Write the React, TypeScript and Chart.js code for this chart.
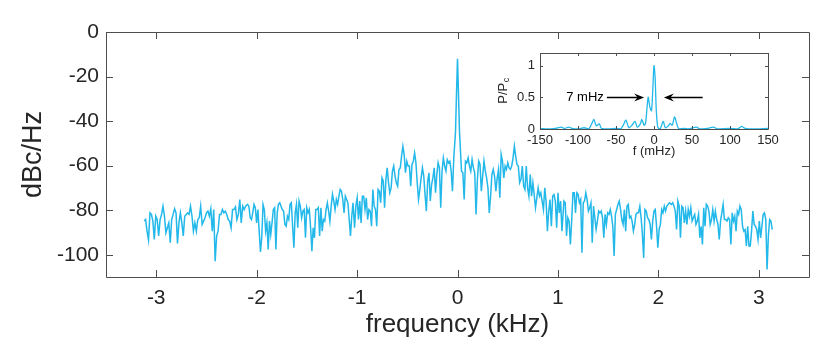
import React, { useEffect, useRef } from "react";
import { Chart, registerables } from "chart.js";

Chart.register(...registerables);

// ---- Main spectrum (dBc/Hz) ----
const segARange = [-3.12, -2.11];
const segA = [-84.9,-84.2,-89.4,-93.4,-81.2,-81.9,-84.9,-93.1,-82.7,-84.2,-91.6,-84.2,-81.9,-78.2,-82.7,-90.2,-87.9,-85.7,-94.6,-84.2,-81.9,-79.4,-81.2,-94.9,-85.7,-81.2,-85.7,-91.6,-82.7,-81.9,-81.2,-81.9,-78.2,-82.7,-89.4,-85.7,-89.4,-84.2,-83.4,-78.2,-86.4,-84.9,-83.4,-81.2,-80.4,-82.7,-79.4,-89.4,-79.7,-102.9,-91.6,-89.4,-81.9,-81.9,-79.7,-81.2,-80.4,-81.9,-84.2,-84.9,-87.9,-79.7,-79.7,-78.5,-84.2,-81.9,-75.2,-85.7,-78.2,-79.7,-78.2];

const segBRange = [-2.09, -1.04];
const segB = [-77.4,-78.2,-83.4,-84.2,-81.2,-77.4,-78.9,-85.7,-79.7,-89.4,-98.8,-92.4,-77.4,-79.7,-89.4,-85.7,-97.6,-84.9,-90.9,-85.7,-79.7,-78.9,-97.6,-81.2,-77.4,-76.7,-78.2,-79.7,-80.4,-86.4,-87.2,-82.7,-84.2,-77.4,-76.7,-87.2,-96.9,-81.2,-77.4,-87.9,-75.9,-78.2,-83.4,-80.4,-79.7,-92.4,-78.9,-81.2,-79.7,-87.9,-98.4,-87.9,-92.4,-79.7,-79.7,-78.9,-91.6,-78.9,-89.4,-84.2,-84.9,-79.7,-76.7,-80.4,-84.9,-78.2,-72.9,-75.9,-79.7,-75.2,-77.4,-73.7,-70.7,-71.5,-75.2,-81.2,-73.7,-75.2,-76.7,-84.2,-91.6,-82.7,-76.7];

const segCRange = [-1.025, -0.037];
const segC = [-87.9,-78.2,-74.4,-84.2,-75.9,-85.7,-73.7,-73.7,-79.7,-74.4,-84.2,-79.7,-80.4,-87.2,-70.7,-78.2,-79.7,-87.2,-70.7,-71.5,-76.7,-65.5,-67.0,-78.9,-66.2,-61.0,-67.7,-72.2,-70.0,-62.5,-60.2,-64.7,-67.7,-69.2,-61.7,-61.0,-55.8,-51.3,-55.0,-63.2,-58.0,-60.2,-60.2,-69.2,-59.5,-58.0,-54.3,-58.7,-67.7,-75.2,-70.7,-65.5,-61.0,-64.7,-73.0,-80.4,-67.0,-63.2,-75.9,-68.5,-65.5,-61.0,-72.2,-64.0,-58.7,-61.0,-78.9,-62.5,-56.5,-60.2,-62.5,-57.3,-58.7,-58.0,-62.5,-71.5,-56.5];

const peakFreqs = [-0.02, -0.01, 0, 0.01, 0.02];
const peakVals = [-45, -28, -12, -28, -45];

const segDRange = [0.04, 1.04];
const segD = [-62.5,-63.2,-75.2,-58.0,-58.7,-56.5,-60.2,-62.5,-57.3,-61.0,-63.2,-81.9,-66.2,-58.0,-59.5,-71.5,-64.7,-58.0,-62.5,-65.5,-70.0,-81.2,-73.7,-64.0,-61.7,-64.7,-71.5,-65.5,-61.7,-74.4,-55.0,-58.0,-65.5,-60.2,-61.7,-58.7,-61.0,-61.7,-60.2,-56.5,-51.3,-55.8,-59.5,-60.2,-67.7,-66.2,-60.2,-69.2,-70.7,-60.2,-70.0,-73.7,-64.0,-73.7,-67.7,-73.0,-78.9,-74.4,-70.0,-73.7,-72.2,-75.9,-79.7,-70.0,-75.9,-89.4,-80.4,-75.2,-87.2,-73.7,-73.0,-75.9,-87.9,-72.2,-81.2,-75.9,-89.4];

const segERange = [1.06, 2.11];
const segE = [-75.9,-76.7,-91.6,-83.4,-84.9,-95.4,-84.9,-72.2,-72.2,-81.2,-72.2,-72.9,-76.7,-75.2,-99.1,-76.7,-75.9,-72.2,-75.2,-80.4,-78.9,-76.7,-94.6,-78.2,-83.4,-88.6,-84.9,-80.4,-81.2,-80.4,-83.4,-92.4,-81.9,-86.4,-81.2,-81.9,-79.7,-82.7,-87.2,-100.6,-81.9,-79.7,-77.4,-75.9,-79.7,-84.2,-86.4,-79.7,-89.4,-78.2,-77.4,-83.4,-82.7,-84.9,-89.4,-86.4,-81.9,-81.2,-81.2,-78.2,-83.4,-90.9,-101.4,-79.7,-80.4,-83.4,-84.2,-86.4,-93.1,-84.9,-80.4,-79.7,-87.2,-96.9,-88.6,-86.4,-79.7,-81.2,-78.2,-80.4,-78.2,-77.4,-76.7];

const segFRange = [2.13, 3.134];
const segF = [-77.4,-76.7,-78.2,-80.4,-88.7,-75.9,-78.2,-92.4,-78.2,-78.9,-85.7,-80.4,-86.4,-79.7,-82.7,-78.9,-84.9,-83.4,-81.9,-86.4,-84.9,-81.9,-92.4,-87.2,-95.4,-78.9,-87.2,-77.4,-78.2,-80.4,-86.4,-84.2,-79.7,-84.9,-80.4,-84.2,-86.4,-93.1,-84.9,-81.2,-77.4,-84.2,-84.2,-84.9,-83.4,-84.2,-95.4,-81.2,-84.9,-82.7,-89.4,-80.4,-81.9,-78.2,-79.7,-87.2,-89.4,-88.7,-96.1,-87.2,-96.1,-96.1,-89.4,-80.4,-86.4,-87.2,-88.7,-93.1,-84.9,-92.4,-87.2,-81.9,-81.2,-84.2,-106.6,-91.6,-84.2,-84.9,-88.7];

const xTicks = [-3, -2, -1, 0, 1, 2, 3];
const yTicks = [0, -20, -40, -60, -80, -100];

// ---- Inset (linear power around the carrier) ----
const insetFreq = [-150,-140,-130,-122,-118,-112,-108,-100,-92,-86,-82,-79,-76,-72,-69,-60,-50,-44,-40,-37,-33,-29,-25,-22,-18,-16,-13,-11,-7.7,-5.5,-3.3,-1.5,0,1.5,3,5,8,12,15,19,21,24,27,30,33,40,45,56,60,70,78,84,100,110,115,120,130,150];
const insetPower = [0.01,0.0,0.01,0.03,0.01,0.03,0.01,0.0,0.02,0.0,0.08,0.15,0.05,0.08,0.01,0.0,0.01,0.0,0.07,0.14,0.02,0.06,0.12,0.03,0.08,0.15,0.06,0.1,0.5,0.35,0.29,0.65,1.0,0.8,0.3,0.03,0.0,0.12,0.02,0.05,0.09,0.06,0.19,0.08,0.0,0.01,0.0,0.03,0.0,0.01,0.03,0.0,0.01,0.0,0.04,0.01,0.0,0.01];
const insetXTicks = [-150, -100, -50, 0, 50, 100, 150];
const insetYTicks = [0, 0.5, 1];

// annotation "7 mHz" with two arrows (inset data units)
const annoLevel = 0.51;
const annoText = "7 mHz";
const annoTextEnd = -66;
const arrowLeftFrom = -62;
const arrowLeftTo = -13;
const arrowRightFrom = 64;
const arrowRightTo = 13;

const FONT = "'Liberation Sans', Arial, Helvetica, sans-serif";
const LINE = "#22b8ea";
const AXIS = "#4d4d4d";
const TEXT = "#262626";

function band(range: number[], vals: number[]) {
  const n = vals.length;
  return vals.map((v, i) => ({ x: range[0] + ((range[1] - range[0]) * i) / (n - 1), y: v }));
}

function boxPlugin(tickLen: number, xt: number[], yt: number[], fillBg: boolean) {
  return {
    id: "boxTicks",
    beforeDatasetsDraw(chart: any) {
      if (!fillBg) return;
      const { ctx, chartArea } = chart;
      ctx.save();
      ctx.fillStyle = "#ffffff";
      ctx.fillRect(chartArea.left, chartArea.top, chartArea.right - chartArea.left, chartArea.bottom - chartArea.top);
      ctx.restore();
    },
    afterDatasetsDraw(chart: any) {
      const { ctx, chartArea, scales } = chart;
      const { left, right, top, bottom } = chartArea;
      ctx.save();
      ctx.strokeStyle = AXIS;
      ctx.lineWidth = 1;
      ctx.beginPath();
      ctx.rect(Math.round(left) + 0.5, Math.round(top) + 0.5, Math.round(right - left), Math.round(bottom - top));
      xt.forEach((v) => {
        const p = Math.round(scales.x.getPixelForValue(v)) + 0.5;
        ctx.moveTo(p, bottom);
        ctx.lineTo(p, bottom - tickLen);
        ctx.moveTo(p, top);
        ctx.lineTo(p, top + tickLen);
      });
      yt.forEach((v) => {
        const p = Math.round(scales.y.getPixelForValue(v)) + 0.5;
        ctx.moveTo(left, p);
        ctx.lineTo(left + tickLen, p);
        ctx.moveTo(right, p);
        ctx.lineTo(right - tickLen, p);
      });
      ctx.stroke();
      ctx.restore();
    },
  };
}

function drawArrow(ctx: CanvasRenderingContext2D, x0: number, x1: number, y: number) {
  const dir = x1 > x0 ? 1 : -1;
  const head = 10;
  const hw = 4;
  ctx.beginPath();
  ctx.moveTo(x0, y);
  ctx.lineTo(x1 - dir * head * 0.6, y);
  ctx.stroke();
  ctx.beginPath();
  ctx.moveTo(x1, y);
  ctx.lineTo(x1 - dir * head, y - hw);
  ctx.lineTo(x1 - dir * head * 0.65, y);
  ctx.lineTo(x1 - dir * head, y + hw);
  ctx.closePath();
  ctx.fill();
}

const insetDecor = {
  id: "insetDecor",
  afterDraw(chart: any) {
    const { ctx, scales, chartArea } = chart;
    const xs = scales.x;
    const ys = scales.y;
    ctx.save();
    // y label P/P_c
    ctx.fillStyle = TEXT;
    const cx = chartArea.left - 37;
    const cy = (chartArea.top + chartArea.bottom) / 2;
    ctx.translate(cx, cy);
    ctx.rotate(-Math.PI / 2);
    ctx.font = `13px ${FONT}`;
    const w1 = ctx.measureText("P/P").width;
    ctx.font = `9px ${FONT}`;
    const w2 = ctx.measureText("c").width;
    ctx.textBaseline = "middle";
    ctx.textAlign = "left";
    ctx.font = `13px ${FONT}`;
    ctx.fillText("P/P", -(w1 + w2) / 2, 0);
    ctx.font = `9px ${FONT}`;
    ctx.fillText("c", -(w1 + w2) / 2 + w1 + 0.5, 4);
    ctx.restore();

    // annotation
    ctx.save();
    const ay = Math.round(ys.getPixelForValue(annoLevel)) + 0.5;
    ctx.fillStyle = "#000000";
    ctx.strokeStyle = "#000000";
    ctx.lineWidth = 1.3;
    ctx.font = `13px ${FONT}`;
    ctx.textAlign = "right";
    ctx.textBaseline = "middle";
    ctx.fillText(annoText, xs.getPixelForValue(annoTextEnd), ay);
    drawArrow(ctx, xs.getPixelForValue(arrowLeftFrom), xs.getPixelForValue(arrowLeftTo), ay);
    drawArrow(ctx, xs.getPixelForValue(arrowRightFrom), xs.getPixelForValue(arrowRightTo), ay);
    ctx.restore();
  },
};

export default function App() {
  const mainRef = useRef<HTMLCanvasElement>(null);
  const insetRef = useRef<HTMLCanvasElement>(null);

  useEffect(() => {
    const mainData = [
      ...band(segARange, segA),
      ...band(segBRange, segB),
      ...band(segCRange, segC),
      ...peakFreqs.map((f, i) => ({ x: f, y: peakVals[i] })),
      ...band(segDRange, segD),
      ...band(segERange, segE),
      ...band(segFRange, segF),
    ];

    const main = new Chart(mainRef.current as HTMLCanvasElement, {
      type: "line",
      data: {
        datasets: [
          {
            data: mainData,
            borderColor: LINE,
            borderWidth: 1.5,
            pointRadius: 0,
            tension: 0,
            fill: false,
          },
        ],
      },
      options: {
        animation: false,
        responsive: false,
        maintainAspectRatio: false,
        layout: { padding: { top: 32, right: 21, left: 0, bottom: 0 } },
        plugins: { legend: { display: false }, tooltip: { enabled: false } },
        scales: {
          x: {
            type: "linear",
            min: -3.5,
            max: 3.5,
            grid: { display: false, drawTicks: false },
            border: { display: false },
            afterBuildTicks: (s: any) => {
              s.ticks = xTicks.map((v) => ({ value: v }));
            },
            afterFit: (s: any) => {
              s.height = 63;
            },
            ticks: {
              font: { family: FONT, size: 21 },
              color: TEXT,
              padding: 9,
              maxRotation: 0,
              autoSkip: false,
              callback: (v: any) => String(v),
            },
            title: {
              display: true,
              text: "frequency (kHz)",
              font: { family: FONT, size: 26 },
              color: TEXT,
              padding: { top: 0, bottom: 0 },
            },
          },
          y: {
            type: "linear",
            min: -110,
            max: 0,
            grid: { display: false, drawTicks: false },
            border: { display: false },
            afterBuildTicks: (s: any) => {
              s.ticks = yTicks.map((v) => ({ value: v }));
            },
            afterFit: (s: any) => {
              s.width = 106;
            },
            ticks: {
              font: { family: FONT, size: 21 },
              color: TEXT,
              padding: 7,
              autoSkip: false,
              callback: (v: any) => String(v),
            },
            title: {
              display: true,
              text: "dBc/Hz",
              font: { family: FONT, size: 27 },
              color: TEXT,
              padding: { top: 17, bottom: 0 },
            },
          },
        },
      },
      plugins: [boxPlugin(7, xTicks, yTicks, false)],
    } as any);

    const inset = new Chart(insetRef.current as HTMLCanvasElement, {
      type: "line",
      data: {
        datasets: [
          {
            data: insetFreq.map((f, i) => ({ x: f, y: insetPower[i] })),
            borderColor: LINE,
            borderWidth: 1.3,
            pointRadius: 0,
            tension: 0.3,
            fill: false,
          },
        ],
      },
      options: {
        animation: false,
        responsive: false,
        maintainAspectRatio: false,
        layout: { padding: { top: 13, right: 22, left: 0, bottom: 0 } },
        plugins: { legend: { display: false }, tooltip: { enabled: false } },
        scales: {
          x: {
            type: "linear",
            min: -150,
            max: 150,
            grid: { display: false, drawTicks: false },
            border: { display: false },
            afterBuildTicks: (s: any) => {
              s.ticks = insetXTicks.map((v) => ({ value: v }));
            },
            afterFit: (s: any) => {
              s.height = 41;
            },
            ticks: {
              font: { family: FONT, size: 13 },
              color: TEXT,
              padding: 4,
              maxRotation: 0,
              autoSkip: false,
              callback: (v: any) => String(v),
            },
            title: {
              display: true,
              text: "f (mHz)",
              font: { family: FONT, size: 13 },
              color: TEXT,
              padding: { top: 0, bottom: 11 },
            },
          },
          y: {
            type: "linear",
            min: 0,
            max: 1.2,
            grid: { display: false, drawTicks: false },
            border: { display: false },
            afterBuildTicks: (s: any) => {
              s.ticks = insetYTicks.map((v) => ({ value: v }));
            },
            afterFit: (s: any) => {
              s.width = 60;
            },
            ticks: {
              font: { family: FONT, size: 13 },
              color: TEXT,
              padding: 5,
              autoSkip: false,
              callback: (v: any) => String(v),
            },
          },
        },
      },
      plugins: [boxPlugin(3, insetXTicks, insetYTicks, true), insetDecor],
    } as any);

    return () => {
      main.destroy();
      inset.destroy();
    };
  }, []);

  return (
    <div style={{ position: "fixed", left: 0, top: 0, width: 830, height: 340, background: "#ffffff" }}>
      <canvas ref={mainRef} width={830} height={340} style={{ position: "absolute", left: 0, top: 0 }} />
      <canvas ref={insetRef} width={310} height={130} style={{ position: "absolute", left: 480, top: 40 }} />
    </div>
  );
}
